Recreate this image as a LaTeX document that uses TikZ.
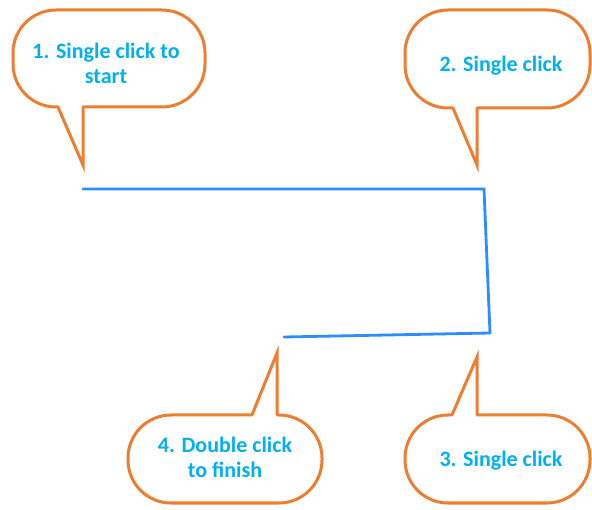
\documentclass[tikz,border=0pt]{standalone}
\usepackage{fontspec}
\setmainfont{Carlito}
\usetikzlibrary{calc}

\definecolor{calloutorange}{RGB}{237,125,49}
\definecolor{saycyan}{RGB}{0,176,240}
\definecolor{routeblue}{RGB}{45,140,255}

\begin{document}
\begin{tikzpicture}[x=1pt, y=-1pt, line cap=round,
    bubble/.style={draw=calloutorange, line width=3pt, rounded corners=43pt, fill=white,
      outer sep=0pt, inner sep=0pt},
    spike/.style={draw=calloutorange, line width=3pt, line join=miter},
    say/.style={text=saycyan, font=\fontsize{22}{25}\selectfont\bfseries, align=center},
    route/.style={draw=routeblue, line width=2.8pt}]

  \useasboundingbox (0,0) rectangle (592,510);

  % clicked points of the line
  \coordinate (p1) at (83,189);
  \coordinate (p2) at (484,189);
  \coordinate (p3) at (490,333);
  \coordinate (p4) at (284,337);
  \draw[route] (p1) -- (p2) -- (p3) -- (p4);

  % callout boxes
  \node[bubble, minimum width=192pt, minimum height=97pt] (c1) at (109,58.5) {};
  \node[bubble, minimum width=185pt, minimum height=98pt] (c2) at (497.5,59) {};
  \node[bubble, minimum width=185pt, minimum height=88pt] (c3) at (497.5,459) {};
  \node[bubble, minimum width=194pt, minimum height=88pt] (c4) at (225,459) {};

  % tips
  \coordinate (tip1) at (83,165);
  \coordinate (tip2) at (477,165);
  \coordinate (tip3) at (477,357);
  \coordinate (tip4) at (277,353);

  \fill[white] ($(c1.south)+(-51,-3)$) -- ($(c1.south)+(-51,0)$) -- (tip1)
    -- ($(c1.south)+(-26,0)$) -- ($(c1.south)+(-26,-3)$) -- cycle;
  \draw[spike] ($(c1.south)+(-51,0)$) -- (tip1) -- ($(c1.south)+(-26,0)$);

  \fill[white] ($(c2.south)+(-44.5,-3)$) -- ($(c2.south)+(-44.5,0)$) -- (tip2)
    -- ($(c2.south)+(-20.5,0)$) -- ($(c2.south)+(-20.5,-3)$) -- cycle;
  \draw[spike] ($(c2.south)+(-44.5,0)$) -- (tip2) -- ($(c2.south)+(-20.5,0)$);

  \fill[white] ($(c3.north)+(-45.5,3)$) -- ($(c3.north)+(-45.5,0)$) -- (tip3)
    -- ($(c3.north)+(-20.5,0)$) -- ($(c3.north)+(-20.5,3)$) -- cycle;
  \draw[spike] ($(c3.north)+(-45.5,0)$) -- (tip3) -- ($(c3.north)+(-20.5,0)$);

  \fill[white] ($(c4.north)+(27,3)$) -- ($(c4.north)+(27,0)$) -- (tip4)
    -- ($(c4.north)+(52,0)$) -- ($(c4.north)+(52,3)$) -- cycle;
  \draw[spike] ($(c4.north)+(27,0)$) -- (tip4) -- ($(c4.north)+(52,0)$);

  % texts
  \node[say] (txt1) at (106,63) {1. Single click to\\start};
  \node[say] (txt2) at (501,66) {2. Single click};
  \node[say] (txt3) at (501,461) {3. Single click};
  \node[say] (txt4) at (225,457.5) {4. Double click\\to finish};
\end{tikzpicture}
\end{document}
